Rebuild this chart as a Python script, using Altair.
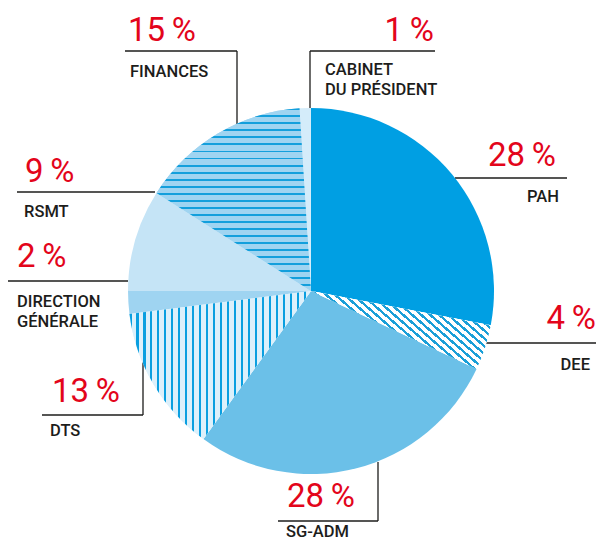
import altair as alt
import pandas as pd

# ---- data ----
categories = ["PAH", "DEE", "SG-ADM", "DTS", "DIRECTION GÉNÉRALE", "RSMT", "FINANCES", "CABINET DU PRÉSIDENT"]
shares = [28, 4, 28, 13, 2, 9, 15, 1]
label_lines = [["PAH"], ["DEE"], ["SG-ADM"], ["DTS"], ["DIRECTION", "GÉNÉRALE"], ["RSMT"], ["FINANCES"], ["CABINET", "DU PRÉSIDENT"]]

# ---- styling / layout (page pixels) ----
OFF = 8
CX, CY, R = 311, 291, 183
solid_colors = ["#009fe3", "#ffffff", "#6bc0e8", "#dcf0fb", "#9fd4f1", "#c5e4f6", "#9fd4f1", "#d4ecfa"]
RED = "#e3051b"
INK = "#1d1d1b"

# pct anchor (x, baseline, align), label anchor (x, first baseline, align)
pct_pos = [(556, 166, "right"), (596, 329, "right"), (287, 507, "left"), (52, 402, "left"),
           (17, 267, "left"), (25, 182, "left"), (128, 41, "left"), (434, 41, "right")]
lab_pos = [(559, 202, "right"), (590, 370, "right"), (286, 537, "left"), (50, 436, "left"),
           (17, 307, "left"), (24, 217, "left"), (130, 77, "left"), (325, 75, "left")]
segments = [
    (455, 178, 567, 178),
    (470, 343, 596, 343),
    (278, 521, 378, 521), (378, 521, 378, 462),
    (42, 415, 143, 415), (143, 415, 143, 360),
    (8, 281, 128, 281),
    (17, 192, 155, 192),
    (125, 51, 237, 51), (237, 51, 237, 125),
    (310, 51, 435, 51), (310, 51, 310, 108),
]


def stripes(bg, fg, n, frac, x1, y1, x2, y2):
    stops = []
    for k in range(n):
        a = k / n
        b = (k + frac) / n
        c = (k + 1) / n
        stops += [
            {"offset": round(a, 5), "color": fg},
            {"offset": round(b, 5), "color": fg},
            {"offset": round(b, 5), "color": bg},
            {"offset": round(c, 5), "color": bg},
        ]
    return {"gradient": "linear", "x1": x1, "y1": y1, "x2": x2, "y2": y2, "stops": stops}


hatch = {
    "FINANCES": stripes("#9fd4f1", "#139fdc", 26, 0.28, 0, 0, 0, 1),
    "DTS": stripes("#dcf0fb", "#0a9fe0", 26, 0.3, 0, 0, 1, 0),
    "DEE": stripes("#ffffff", "#1a9fd8", 25, 0.4, 0, 0.5, 1, 0),
}

pie_df = pd.DataFrame({"cat": categories, "share": shares, "idx": list(range(len(categories)))})

base = alt.Chart(pie_df).encode(
    theta=alt.Theta("share:Q", stack=True),
    order=alt.Order("idx:Q"),
    x=alt.value(CX - OFF),
    y=alt.value(CY - OFF),
)

pie = base.mark_arc(radius=R).encode(
    color=alt.Color("cat:N", scale=alt.Scale(domain=categories, range=solid_colors), legend=None)
)

hatch_layers = []
for name, grad in hatch.items():
    hatch_layers.append(
        base.mark_arc(radius=R).encode(
            fill=alt.condition(f"datum.cat == '{name}'", alt.value(grad), alt.value("transparent"))
        )
    )

# leader lines
seg_df = pd.DataFrame(segments, columns=["x", "y", "x2", "y2"]) - OFF
rules = alt.Chart(seg_df).mark_rule(color=INK, strokeWidth=1.3).encode(
    x=alt.X("x:Q", scale=None), y=alt.Y("y:Q", scale=None),
    x2="x2:Q", y2="y2:Q",
)

# percentage texts
pct_rows = []
for v, (px, py, al) in zip(shares, pct_pos):
    pct_rows.append({"t": f"{v}\u2009%", "x": px - OFF, "y": py - OFF, "al": al})
pct_df = pd.DataFrame(pct_rows)

pct_layers = []
for al in ["left", "right"]:
    pct_layers.append(
        alt.Chart(pct_df[pct_df.al == al]).mark_text(
            font="Roboto", fontSize=33, color=RED, align=al, baseline="alphabetic"
        ).encode(x=alt.X("x:Q", scale=None), y=alt.Y("y:Q", scale=None), text="t:N")
    )

lab_rows = []
for lines, (lx, ly, al) in zip(label_lines, lab_pos):
    for i, ln in enumerate(lines):
        lab_rows.append({"t": ln, "x": lx - OFF, "y": ly - OFF + i * 20, "al": al})
lab_df = pd.DataFrame(lab_rows)

lab_layers = []
for al in ["left", "right"]:
    lab_layers.append(
        alt.Chart(lab_df[lab_df.al == al]).mark_text(
            font="Roboto", fontSize=16.5, fontWeight=500, color=INK, align=al, baseline="alphabetic"
        ).encode(x=alt.X("x:Q", scale=None), y=alt.Y("y:Q", scale=None), text="t:N")
    )

chart = alt.layer(rules, pie, *hatch_layers, *pct_layers, *lab_layers).properties(
    width=588, height=535, padding=0, autosize=alt.AutoSizeParams(type="none")
).configure_view(stroke=None)

chart.save("out.html", embed_options={"renderer": "svg", "actions": False})
